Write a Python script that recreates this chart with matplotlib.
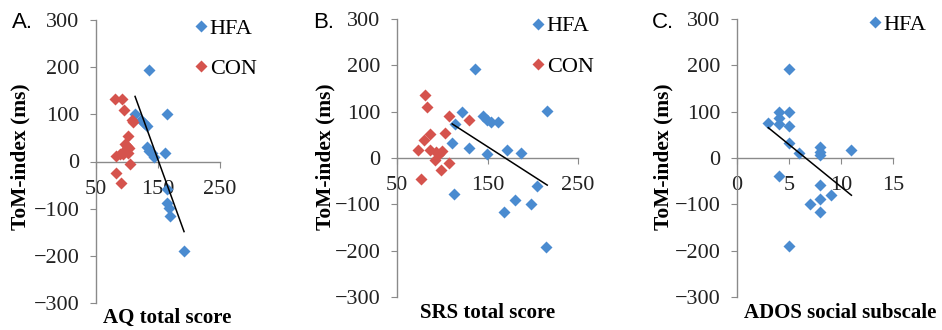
import numpy as np
import matplotlib
matplotlib.use('Agg')
import matplotlib.pyplot as plt

# Daten
aq_hfa_x = [136, 113, 122, 128, 132, 133, 135, 140, 143, 164, 161, 165, 164, 167, 170, 192]
aq_hfa_y = [193, 100, 88, 82, 75, 30, 22, 18, 10, 100, 18, -58, -87, -98, -116, -190]
aq_con_x = [80, 92, 95, 110, 108, 102, 97, 100, 104, 95, 89, 83, 94, 102, 105, 83, 91]
aq_con_y = [133, 133, 110, 84, 89, 54, 38, 32, 29, 22, 15, 11, 15, 17, -5, -25, -45]

srs_hfa_x = [136, 122, 114, 111, 130, 145, 149, 154, 162, 171, 149, 187, 216, 113, 168, 180, 198, 205, 215]
srs_hfa_y = [193, 99, 73, 32, 22, 90, 83, 77, 77, 17, 8, 11, 101, -77, -117, -90, -100, -61, -192]
srs_con_x = [81, 83, 87, 80, 73, 87, 93, 96, 92, 100, 103, 108, 130, 99, 108, 76]
srs_con_y = [135, 110, 51, 38, 17, 17, 12, 8, -4, 15, 53, 90, 82, -25, -10, -45]

ados_hfa_x = [5, 3, 4, 4, 4, 5, 5, 5, 6, 8, 8, 8, 11, 4, 8, 9, 7, 8, 8, 5]
ados_hfa_y = [192, 76, 99, 87, 74, 99, 70, 32, 10, 23, 12, 6, 17, -39, -59, -79, -99, -89, -116, -191]

panels = [
    dict(tag='A.', hx=aq_hfa_x, hy=aq_hfa_y, cx=aq_con_x, cy=aq_con_y, xlim=(50, 250), xt=[50, 150, 250],
         xlabel='AQ total score'),
    dict(tag='B.', hx=srs_hfa_x, hy=srs_hfa_y, cx=srs_con_x, cy=srs_con_y, xlim=(50, 250), xt=[50, 150, 250],
         xlabel='SRS total score'),
    dict(tag='C.', hx=ados_hfa_x, hy=ados_hfa_y, cx=None, cy=None, xlim=(0, 15), xt=[0, 5, 10, 15],
         xlabel='ADOS social subscale'),
]

W, H = 942, 330
# Achsen in Pixeln: links, rechts, oben, unten
boxes = [(96, 220, 20, 303), (397, 578, 19, 297), (737, 893, 19, 297)]
ylab_x = [20, 325, 663]
xlab = [(167, 318), (488, 313), (840, 313)]
tag_pos = [(22, 22), (324, 22), (663, 22)]
leg_anchor = [(0.80, 1.007), (0.748, 1.011), (0.847, 1.018)]

C_HFA, C_CON, C_AX = '#4a8bd0', '#d5534d', '#8a8a8a'
SERIF = 'Liberation Serif'

fig = plt.figure(figsize=(W / 100, H / 100), dpi=100)
fig.patch.set_facecolor('white')

for i, p in enumerate(panels):
    l, r, t, b = boxes[i]
    ax = fig.add_axes([l / W, (H - b) / H, (r - l) / W, (b - t) / H])
    ax.plot(p['hx'], p['hy'], 'D', color=C_HFA, ms=6, mec='none', label='HFA', zorder=3)
    if p['cx'] is not None:
        ax.plot(p['cx'], p['cy'], 'D', color=C_CON, ms=6, mec='none', label='CON', zorder=3)
    # lineare Trendlinie der HFA-Gruppe
    k, d = np.polyfit(p['hx'], p['hy'], 1)
    xs = np.array([min(p['hx']), max(p['hx'])])
    ax.plot(xs, k * xs + d, color='black', lw=1.1, zorder=4)

    ax.set_xlim(*p['xlim'])
    ax.set_ylim(-300, 300)
    ax.set_xticks(p['xt'])
    ax.set_yticks(range(-300, 301, 100))
    for s in ['top', 'right']:
        ax.spines[s].set_visible(False)
    ax.spines['bottom'].set_position(('data', 0))
    for s in ['left', 'bottom']:
        ax.spines[s].set_color(C_AX)
        ax.spines[s].set_linewidth(1.0)
    ax.tick_params(axis='both', direction='out', length=4, color=C_AX, labelsize=16,
                   labelcolor='#222222')
    ax.tick_params(axis='x', pad=9)
    ax.tick_params(axis='y', pad=8)
    for lab in ax.get_xticklabels() + ax.get_yticklabels():
        lab.set_family(SERIF)
    ax.set_facecolor('none')

    leg = ax.legend(loc='upper left', bbox_to_anchor=leg_anchor[i], frameon=False, numpoints=1,
                    handlelength=0.5, handletextpad=0.15, labelspacing=0.9, borderpad=0,
                    borderaxespad=0, prop={'family': SERIF, 'size': 16})

    fig.text(ylab_x[i] / W, 1 - 157 / H, 'ToM-index (ms)', rotation=90, ha='center', va='center',
             family=SERIF, weight='bold', size=15.5)
    fig.text(xlab[i][0] / W, 1 - xlab[i][1] / H, p['xlabel'], ha='center', va='center',
             family=SERIF, weight='bold', size=15)
    fig.text(tag_pos[i][0] / W, 1 - tag_pos[i][1] / H, p['tag'], ha='center', va='center',
             family='Liberation Sans', size=16)

fig.savefig('out.png', dpi=100, facecolor='white')
